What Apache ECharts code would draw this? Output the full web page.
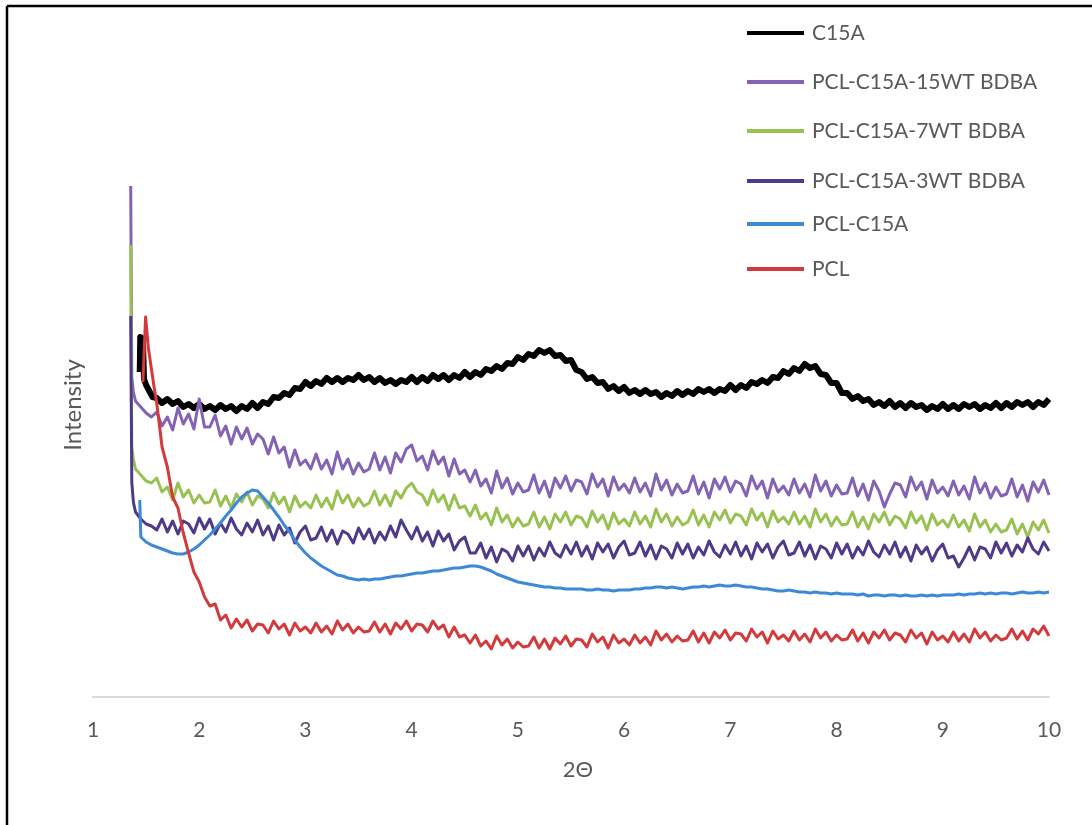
<!DOCTYPE html>
<html>
<head>
<meta charset="utf-8">
<script src="https://cdn.jsdelivr.net/npm/echarts@6/dist/echarts.min.js"></script>
<style>
html,body{margin:0;padding:0;background:#fff;}
#chart{width:1092px;height:825px;}
</style>
</head>
<body>
<div id="chart"></div>
<script>
// Sampling grid of 2-theta (degrees) for the main body of every scan
const twoTheta = Array.from({length:169}, (_, i) => +(1.6 + 0.05 * i).toFixed(2));
const xTicks = ['1','2','3','4','5','6','7','8','9','10'];
const seriesNames = ['C15A','PCL-C15A-15WT BDBA','PCL-C15A-7WT BDBA','PCL-C15A-3WT BDBA','PCL-C15A','PCL'];

// Leading parts of the scans (x, intensity) before the regular grid
const c15aHead = [[1.44,325],[1.445,360],[1.47,358],[1.48,318],[1.50,312],[1.53,306],[1.56,300]];
const wt15Head = [[1.355,511],[1.365,320],[1.38,305],[1.40,296],[1.45,290],[1.50,284],[1.55,280]];
const wt7Head  = [[1.355,452],[1.365,250],[1.38,238],[1.40,228],[1.45,222],[1.50,216],[1.55,214]];
const wt3Head  = [[1.355,381],[1.365,215],[1.38,195],[1.40,185],[1.45,178],[1.50,173],[1.55,171]];
const pclC15aHead = [[1.44,197],[1.45,160],[1.50,155],[1.55,152]];
const pclHead  = [[1.47,315],[1.495,380],[1.52,350],[1.55,328],[1.575,310]];

// Intensities on the twoTheta grid (arbitrary units)
const c15a = [
299,294,298,293,296,290,293,289,293,288,
291,287,292,288,291,286,291,288,294,289,
295,293,300,299,304,302,309,308,315,311,
316,313,319,315,319,315,319,317,322,317,
320,315,319,314,317,313,317,315,320,315,
320,316,322,318,322,317,322,319,325,320,
325,322,328,326,331,328,334,333,340,337,
343,341,347,344,347,341,342,336,337,327,
325,318,320,314,315,308,311,306,310,304,
307,303,307,303,305,300,304,301,306,302,
306,303,308,305,308,304,308,306,312,307,
312,309,315,313,317,314,320,319,326,323,
329,326,333,329,331,323,322,314,314,304,
304,298,301,296,298,292,295,291,296,290,
294,289,294,290,292,287,291,288,293,288,
292,288,293,290,293,288,292,289,294,289,
294,290,295,292,295,290,295,292,298];

const wt15 = [
285,271,280,267,289,273,283,268,298,270,
270,282,261,271,253,270,258,269,253,263,
258,243,260,244,250,230,247,232,237,228,
243,228,237,223,245,228,238,223,234,225,
228,244,227,240,224,244,235,248,252,236,
241,227,246,233,240,221,238,223,227,215,
227,211,218,204,226,209,219,203,214,205,
207,222,204,216,200,219,209,221,206,217,
215,203,223,210,218,201,220,207,213,204,
219,205,214,201,223,207,217,202,213,204,
206,221,203,215,199,218,208,220,205,216,
213,201,221,208,216,199,218,205,211,202,
218,204,213,200,222,206,216,201,212,203,
204,219,201,213,197,216,206,190,203,214,
212,200,220,207,215,198,217,204,210,201,
216,202,211,198,220,204,214,199,210,201,
203,218,200,212,196,215,205,217,202];

const wt7 = [
219,205,210,197,214,200,207,194,202,194,
195,207,191,201,189,203,195,205,192,201,
198,189,204,193,200,185,201,190,195,189,
202,190,199,188,206,194,202,190,199,191,
194,206,192,202,191,206,199,209,214,205,
202,192,207,195,202,187,202,189,191,181,
192,178,184,172,189,175,182,170,179,171,
173,185,170,180,168,183,175,185,172,181,
179,170,186,175,182,168,184,173,178,171,
185,173,181,170,188,175,183,171,180,172,
175,187,172,182,170,185,177,187,174,183,
181,172,188,177,184,170,186,175,180,173,
185,173,181,170,188,175,183,171,180,172,
173,185,170,180,168,183,175,185,172,181,
178,169,185,174,181,167,183,172,177,170,
182,170,177,166,183,170,177,165,173,165,
167,178,163,173,160,175,167,177,164];

const wt3 = [
167,178,165,176,163,176,173,164,179,168,
178,163,174,165,179,168,162,174,165,177,
162,171,157,172,162,169,154,165,171,157,
159,170,156,167,153,166,163,154,169,158,
168,154,165,157,171,160,177,167,158,170,
156,165,151,166,156,163,147,156,160,144,
144,154,139,150,135,148,145,136,151,141,
151,137,149,141,155,144,140,152,143,155,
141,151,138,154,145,153,139,150,156,142,
144,155,141,152,138,151,148,139,154,143,
153,139,150,142,156,145,140,152,143,155,
141,151,138,154,145,153,139,150,156,142,
144,155,141,152,138,151,148,139,154,143,
153,139,150,142,156,145,140,152,143,155,
140,150,136,152,143,150,136,147,153,139,
141,130,139,150,137,150,148,139,155,144,
154,141,152,145,159,148,143,155,146];

const pclC15a = [
150,148,146,144,143,143,145,148,152,157,
162,168,174,181,187,194,200,204,207,206,
200,194,187,180,172,165,157,150,144,139,
135,131,128,125,122,121,119,118,117,118,
117,118,118,119,120,121,121,122,123,124,
124,125,126,126,127,128,129,129,130,131,
131,130,128,126,123,121,119,117,115,114,
113,112,111,110,110,109,109,108,108,108,
108,107,107,108,107,107,106,107,107,107,
108,108,109,109,110,110,109,110,109,108,
109,110,110,111,110,111,112,111,111,112,
111,110,110,109,108,108,107,106,106,107,
106,105,105,104,105,104,104,103,104,103,
103,103,102,103,101,102,102,101,102,102,
101,102,101,101,102,101,102,101,102,102,
102,103,102,103,103,104,103,104,103,104,
104,103,104,105,104,104,105,104,105];

const pcl = [
294,250,230,200,189,164,144,125,115,100,
91,93,77,82,69,78,70,77,66,73,
72,64,76,68,73,62,74,66,70,64,
74,65,71,63,76,67,73,64,70,65,
66,75,65,73,63,74,68,76,66,73,
72,65,76,68,72,60,70,60,62,54,
62,51,56,48,61,52,58,49,55,50,
51,60,49,58,48,59,53,61,51,58,
57,50,63,55,60,49,62,54,58,52,
62,54,60,52,66,57,63,55,61,56,
57,66,55,64,54,65,59,67,57,64,
63,56,68,60,65,54,66,58,62,56,
66,57,63,55,68,59,65,56,62,57,
58,67,56,64,54,65,59,67,57,64,
62,55,67,59,64,53,65,57,61,55,
65,56,63,55,68,59,65,56,62,57,
59,68,58,66,57,68,63,71,61];

const colors = ['#000000','#8463B4','#98C152','#4E3A88','#3D89D6','#D23A3C'];
const widths = [6, 3, 3, 3, 3, 3];
const heads = [c15aHead, wt15Head, wt7Head, wt3Head, pclC15aHead, pclHead];
const bodies = [c15a, wt15, wt7, wt3, pclC15a, pcl];

const FONT = 'Lato, "Liberation Sans", sans-serif';
const TXT = '#595959';

const series = seriesNames.map((name, k) => ({
  name,
  type: 'line',
  showSymbol: false,
  symbol: 'none',
  smooth: false,
  animation: false,
  lineStyle: { color: colors[k], width: widths[k], join: 'round' },
  itemStyle: { color: colors[k] },
  data: heads[k].concat(twoTheta.map((x, i) => [x, bodies[k][i]]))
}));

const legendRowsY = [33, 82, 131, 181, 224, 269];
const legends = seriesNames.map((name, k) => ({
  data: [name],
  left: 747,
  top: legendRowsY[k] - 12,
  padding: 0,
  icon: 'rect',
  itemWidth: 57,
  itemHeight: 4,
  selectedMode: false,
  textStyle: { fontFamily: FONT, fontSize: 21, color: TXT, lineHeight: 24, padding: [0, 0, 0, 3] }
}));

const chart = echarts.init(document.getElementById('chart'), null, { renderer: 'canvas' });
chart.setOption({
  backgroundColor: '#ffffff',
  animation: false,
  grid: { left: 93, right: 43, top: 113, bottom: 128, containLabel: false },
  legend: legends,
  xAxis: {
    type: 'value',
    min: 1, max: 10, interval: 1,
    name: '2Θ',
    nameLocation: 'middle',
    nameGap: 62,
    nameTextStyle: { fontFamily: FONT, fontSize: 22, color: TXT, padding: [0, 0, 0, 14] },
    axisLine: { show: true, onZero: false, lineStyle: { color: '#D9D9D9', width: 2 } },
    axisTick: { show: false },
    splitLine: { show: false },
    axisLabel: { fontFamily: FONT, fontSize: 21, color: TXT, margin: 23,
      formatter: v => xTicks[Math.round(v) - 1] }
  },
  yAxis: {
    type: 'value',
    min: 0, max: 584,
    name: 'Intensity',
    nameLocation: 'middle',
    nameGap: 8,
    nameTextStyle: { fontFamily: FONT, fontSize: 24, color: TXT },
    axisLine: { show: false },
    axisTick: { show: false },
    axisLabel: { show: false },
    splitLine: { show: false }
  },
  graphic: [
    { type: 'line', shape: { x1: 7, y1: 6, x2: 1092, y2: 6 }, style: { stroke: '#000', lineWidth: 2.5 } },
    { type: 'line', shape: { x1: 7, y1: 6, x2: 7, y2: 825 }, style: { stroke: '#000', lineWidth: 2.5 } }
  ],
  series
});
</script>
</body>
</html>
